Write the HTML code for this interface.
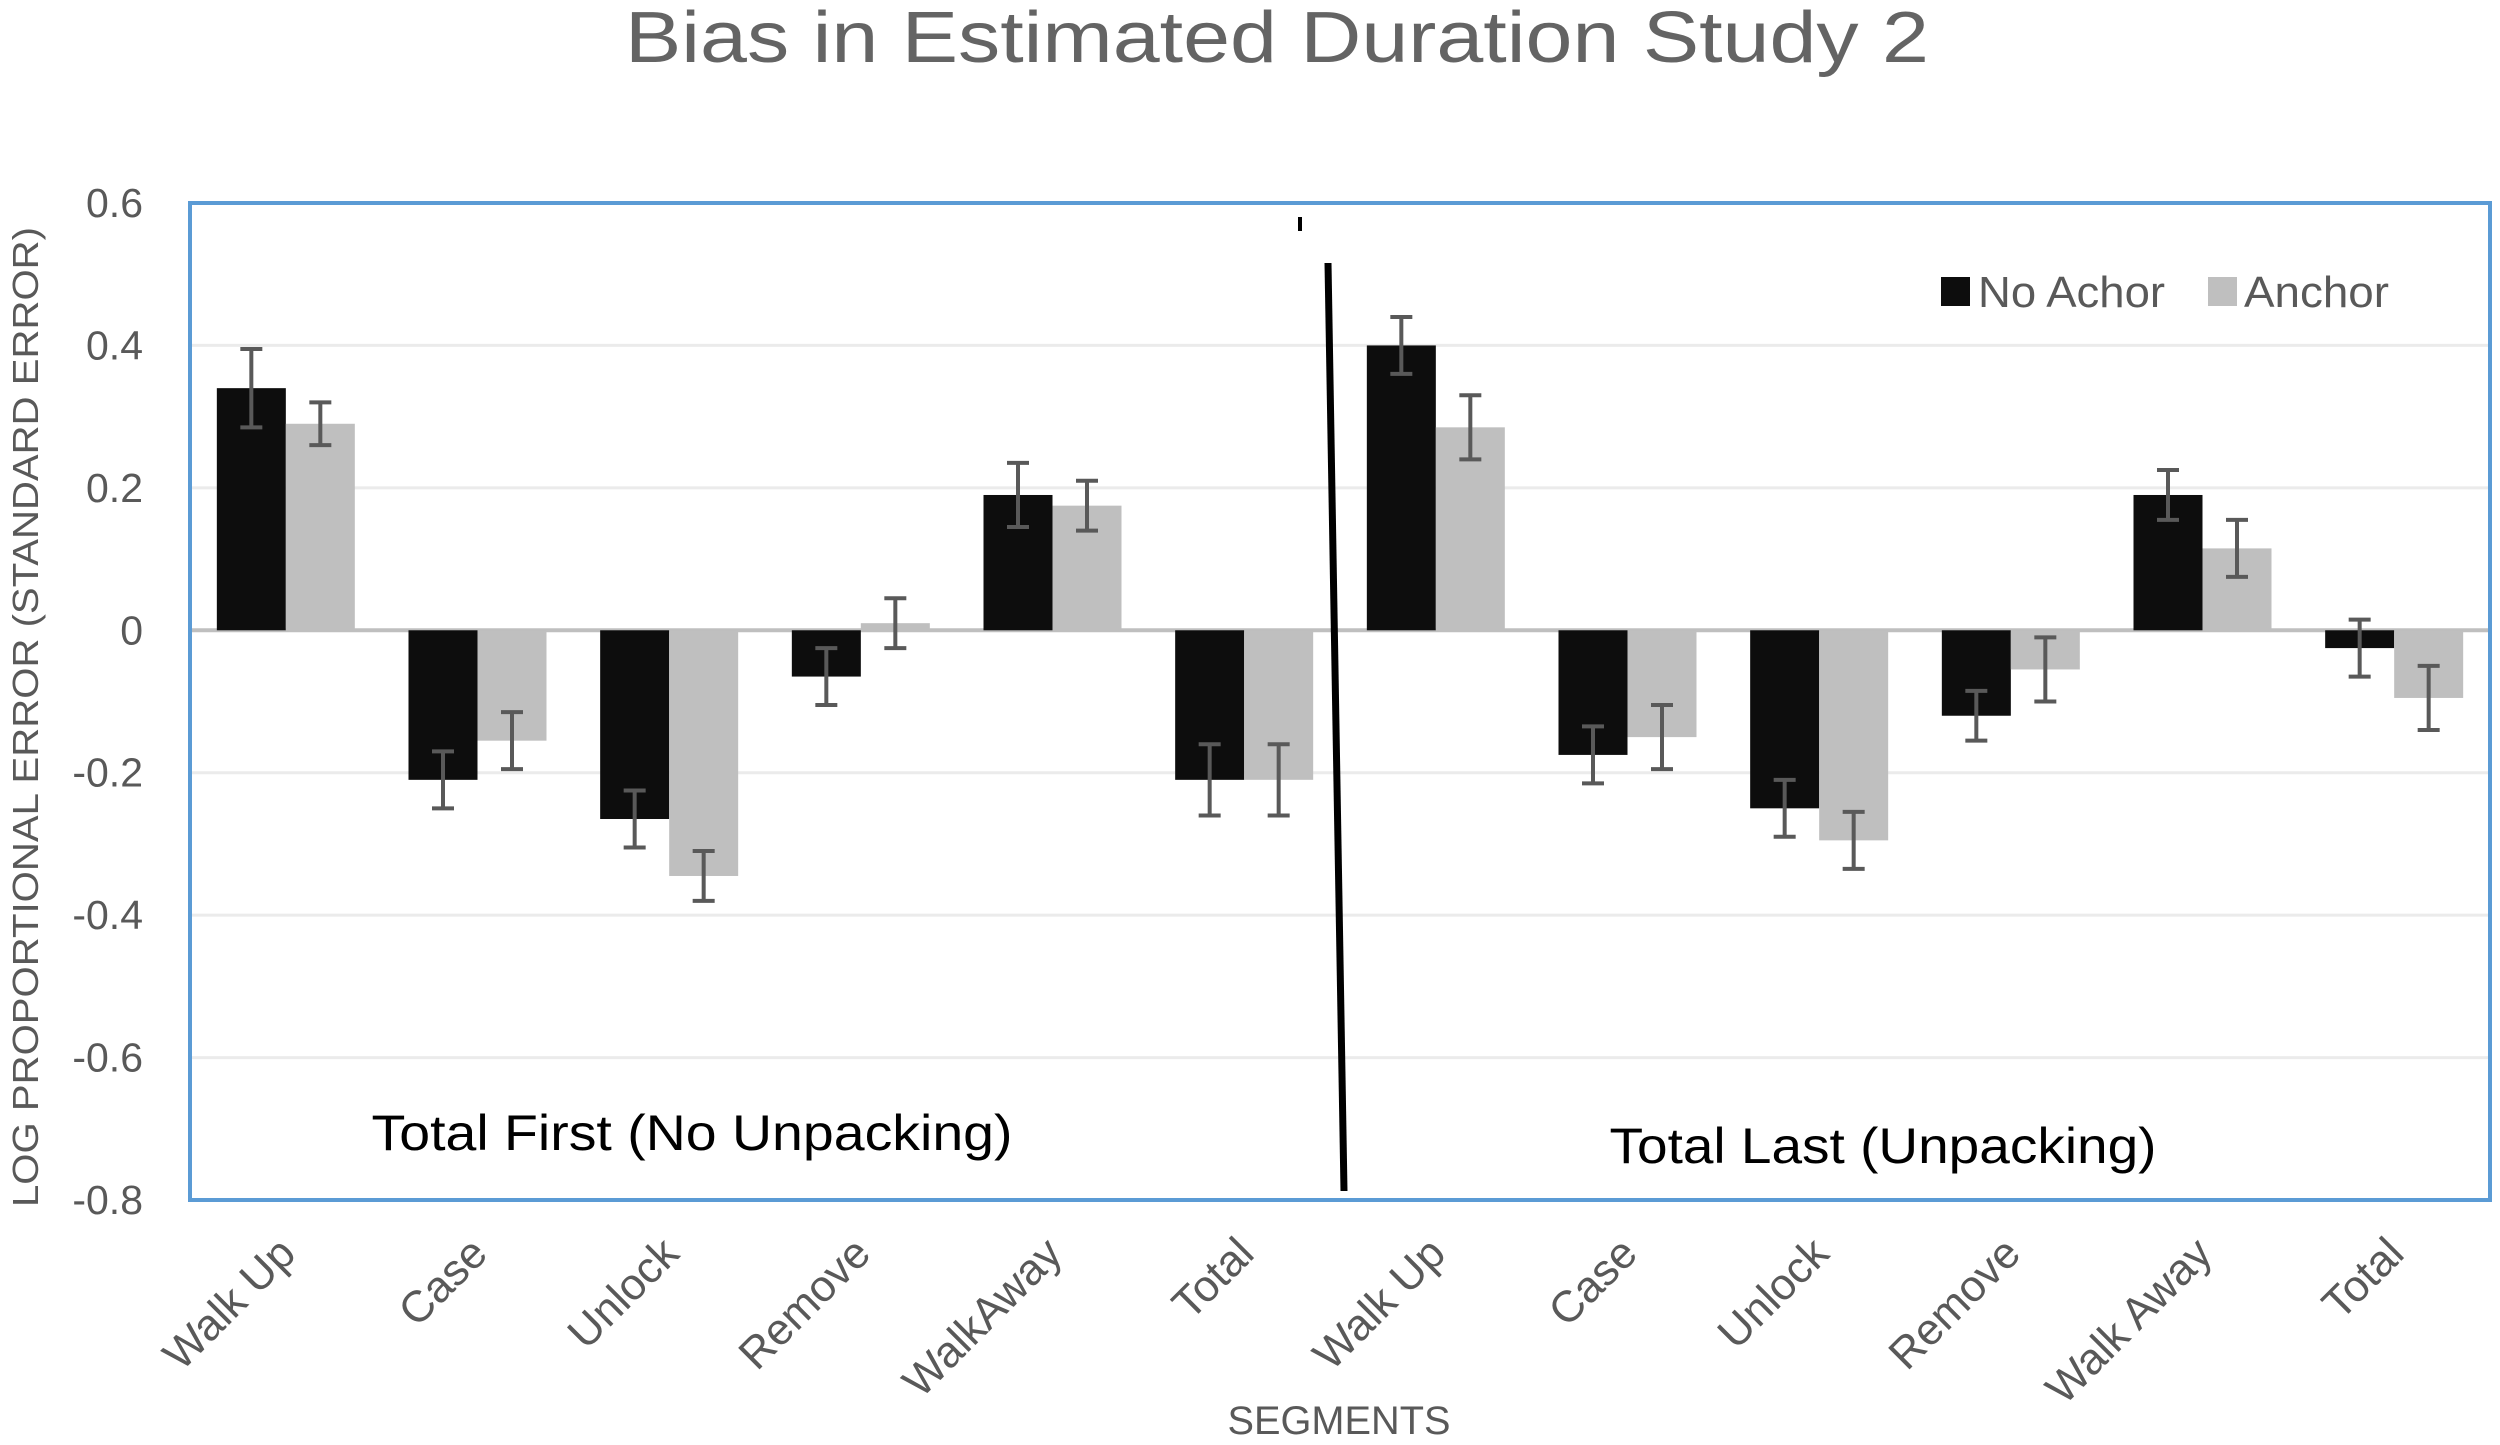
<!DOCTYPE html>
<html><head><meta charset="utf-8"><style>
html,body{margin:0;padding:0;background:#fff;}
svg{display:block;font-family:"Liberation Sans",sans-serif;}
</style></head><body>
<svg id="chart" width="2500" height="1445" viewBox="0 0 2500 1445" xmlns="http://www.w3.org/2000/svg">
<text x="1277" y="62" text-anchor="middle" font-size="72" fill="#646464" textLength="1304" lengthAdjust="spacingAndGlyphs">Bias in Estimated Duration Study 2</text>
<g id="grid"></g>
<g id="bars"></g>
<g id="errs"></g>
<rect x="190" y="203" width="2300" height="997" fill="none" stroke="#5b9bd5" stroke-width="4"/>
<line x1="1328" y1="263" x2="1344" y2="1191" stroke="#000" stroke-width="7"/>
<line x1="1300" y1="217" x2="1300" y2="231" stroke="#000" stroke-width="4"/>
<g id="yticks"></g>
<g id="xticks"></g>
<text transform="translate(38,717) rotate(-90)" text-anchor="middle" font-size="36" fill="#595959" textLength="980" lengthAdjust="spacingAndGlyphs">LOG PROPORTIONAL ERROR (STANDARD ERROR)</text>
<text x="1339" y="1434" text-anchor="middle" font-size="40" fill="#595959" textLength="223" lengthAdjust="spacingAndGlyphs">SEGMENTS</text>
<text x="692" y="1150" text-anchor="middle" font-size="50" fill="#000" textLength="641" lengthAdjust="spacingAndGlyphs">Total First (No Unpacking)</text>
<text x="1883" y="1163" text-anchor="middle" font-size="50" fill="#000" textLength="547" lengthAdjust="spacingAndGlyphs">Total Last (Unpacking)</text>
<g>
<rect x="1941" y="277" width="29" height="29" fill="#0d0d0d"/>
<text x="1978" y="307" font-size="44" fill="#595959" textLength="187" lengthAdjust="spacingAndGlyphs">No Achor</text>
<rect x="2208" y="277" width="29" height="29" fill="#bfbfbf"/>
<text x="2244" y="307" font-size="44" fill="#595959" textLength="145" lengthAdjust="spacingAndGlyphs">Anchor</text>
</g>
</svg>
<script>
const categories = ["Walk Up","Case","Unlock","Remove","WalkAway","Total","Walk Up","Case","Unlock","Remove","Walk Away","Total"];
const noAnchor = [0.34,-0.21,-0.265,-0.065,0.19,-0.21,0.40,-0.175,-0.25,-0.12,0.19,-0.025];
const anchor = [0.29,-0.155,-0.345,0.01,0.175,-0.21,0.285,-0.15,-0.295,-0.055,0.115,-0.095];
const noAnchorErr = [0.055,0.04,0.04,0.04,0.045,0.05,0.04,0.04,0.04,0.035,0.035,0.04];
const anchorErr = [0.03,0.04,0.035,0.035,0.035,0.05,0.045,0.045,0.04,0.045,0.04,0.045];
const yTicks = [0.6,0.4,0.2,0,-0.2,-0.4,-0.6,-0.8];

const NS="http://www.w3.org/2000/svg";
const L=190,R=2490,T=203,B=1200,yMin=-0.8,yMax=0.6;
function y(v){return T+(yMax-v)/(yMax-yMin)*(B-T);}
const gw=(R-L)/categories.length;
function xc(i){return L+gw*(i+0.5);}
const bw=69;
function mk(tag,attrs,parent){const e=document.createElementNS(NS,tag);for(const k in attrs)e.setAttribute(k,attrs[k]);document.getElementById(parent).appendChild(e);return e;}

yTicks.forEach(t=>{
  if(t!==0&&t!==0.6&&t!==-0.8){
    const g=mk('line',{x1:L,x2:R,y1:y(t),y2:y(t),stroke:'#ebebeb','stroke-width':3},'grid');
    
    
  }
  const tx=mk('text',{x:143,y:y(t)+14,'text-anchor':'end','font-size':41,fill:'#595959'},'yticks');
  tx.textContent=String(t);
  
  
});

categories.forEach((c,i)=>{
  const cx=xc(i);
  [[noAnchor,noAnchorErr,'#0d0d0d',-1,'bar-no-anchor'],[anchor,anchorErr,'#bfbfbf',0,'bar-anchor']].forEach(([vals,errs,col,off,nm])=>{
    const v=vals[i],x0=cx+off*bw;
    const b=mk('rect',{x:x0,y:Math.min(y(v),y(0)),width:bw,height:Math.abs(y(v)-y(0)),fill:col},'bars');
    
    
    const ex=x0+bw/2,e=errs[i];
    const p=mk('path',{d:`M${ex},${y(v+e)}V${y(v-e)}M${ex-11},${y(v+e)}h22M${ex-11},${y(v-e)}h22`,stroke:'#595959','stroke-width':4,fill:'none'},'errs');
    
    
  });
  const tx=mk('text',{transform:`translate(${cx+12},1256) rotate(-45)`,'text-anchor':'end','font-size':44,fill:'#595959'},'xticks');
  tx.textContent=c;
  
  
});
const z=mk('line',{x1:L,x2:R,y1:y(0),y2:y(0),stroke:'#bfbfbf','stroke-width':4},'grid');


</script>
</body></html>
